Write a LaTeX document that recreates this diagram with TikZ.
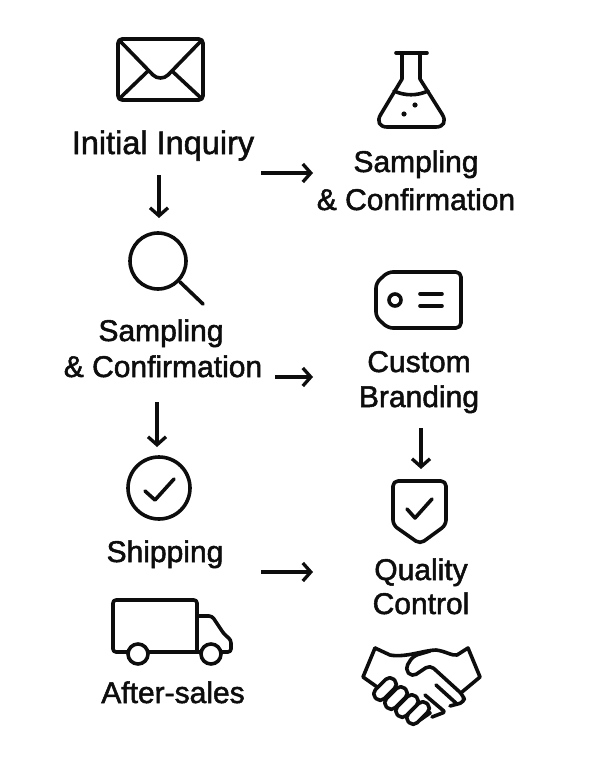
\documentclass[tikz,border=0pt]{standalone}
\usepackage{fontspec}
\setmainfont[FakeBold=1.7]{Liberation Sans}
\usetikzlibrary{arrows.meta}
\definecolor{ink}{HTML}{0D0D0D}
\tikzset{
  icon/.style={draw=ink,line width=3.6pt,line cap=round,line join=round,fill=none},
  label/.style={text=ink,font=\fontsize{30}{32}\selectfont,inner sep=0pt,anchor=base},
  conn/.style={draw=ink,line width=3.3pt,-{Straight Barb[length=8pt,width=18pt,line width=3.3pt]}},
  finger/.style={icon,fill=white,rounded corners=5.5pt,minimum width=26pt,minimum height=12.5pt,inner sep=0pt}
}
\begin{document}
\begin{tikzpicture}[x=1pt,y=-1pt]
\useasboundingbox (0,0) rectangle (593,757);
% labels
\node[label,font=\fontsize{32.5}{34}\selectfont] (inquiry) at (163,154) {Initial Inquiry};
\node[label] (samplingA) at (416,172) {Sampling};
\node[label] (confirmA) at (416,210) {\&\ Confirmation};
\node[label] (samplingB) at (161,341) {Sampling};
\node[label] (confirmB) at (163,377) {\&\ Confirmation};
\node[label] (custom) at (419,372) {Custom};
\node[label] (branding) at (419,407) {Branding};
\node[label] (shipping) at (165,562) {Shipping};
\node[label] (quality) at (421,580) {Quality};
\node[label] (control) at (421,614) {Control};
\node[label] (aftersales) at (173,703) {After-sales};
% connector ends
\coordinate (a1s) at (159,175); \coordinate (a1e) at (159,218);
\coordinate (a2s) at (261,173); \coordinate (a2e) at (313,173);
\coordinate (a3s) at (275,377); \coordinate (a3e) at (313,377);
\coordinate (a4s) at (157,402); \coordinate (a4e) at (157,447);
\coordinate (a5s) at (421,428); \coordinate (a5e) at (421,469);
\coordinate (a6s) at (261,572); \coordinate (a6e) at (313,572);
\draw[conn] (a1s) -- (a1e);
\draw[conn] (a2s) -- (a2e);
\draw[conn] (a3s) -- (a3e);
\draw[conn] (a4s) -- (a4e);
\draw[conn] (a5s) -- (a5e);
\draw[conn] (a6s) -- (a6e);
% envelope
\draw[icon,rounded corners=4pt] (118,39) rectangle (203,100);
\draw[icon] (120,41) -- (153,75) .. controls (157,79) and (164,79) .. (168,75) -- (201,41);
\draw[icon] (120,98) -- (148,71);
\draw[icon] (201,98) -- (172,71);
% magnifier
\draw[icon] (158,261) circle (28);
\draw[icon] (180,282) -- (203,304);
% flask
\draw[icon] (396,53) -- (427,53);
\draw[icon] (402,53) -- (402,79) -- (381,114)
  .. controls (376,122) and (380,127) .. (387,127) -- (436,127)
  .. controls (443,127) and (447,122) .. (442,114) -- (420,79) -- (420,53);
\draw[icon] (394,91) .. controls (405,96) and (417,96) .. (428,91);
\fill[ink] (415,105) circle (2.6);
\fill[ink] (404,114) circle (2.6);
% tag
\draw[icon,rounded corners=5pt] (388,272) -- (461,272) -- (461,328) -- (388,328) -- (376,317) -- (376,283) -- cycle;
\draw[icon] (395,300) circle (6);
\draw[icon] (420,294) -- (442,294);
\draw[icon] (420,306) -- (442,306);
% check circle
\draw[icon] (159,488) circle (31);
\draw[icon] (145,491) -- (155,500) -- (174,479);
% truck
\draw[icon,rounded corners=3pt] (128,652) -- (113,652) -- (113,600) -- (197,600) -- (197,652);
\draw[icon] (148,652) -- (201,652);
\draw[icon,rounded corners=3pt] (197,616) -- (212,616) -- (224,634) -- (231,640) -- (231,652) -- (221,652);
\draw[icon] (138,654) circle (10);
\draw[icon] (211,654) circle (10);
% shield
\draw[icon,rounded corners=5pt] (393,481) -- (446,481) -- (446,525) -- (420,544) -- (393,525) -- cycle;
\draw[icon] (407,509) -- (415,518) -- (432,499);
% handshake
\draw[icon] (375,648) -- (363,677) -- (380,689);
\draw[icon] (375,648) -- (390,655) .. controls (405,658) and (425,650) .. (436,650)
  .. controls (445,651) and (452,656) .. (457,655) -- (468,648) -- (480,677) -- (462,692);
\draw[icon,rounded corners=5pt] (430,651) -- (413,656) -- (405,669) -- (412,677) -- (430,665) -- (463,695) -- (465,702) -- (450,706);
\draw[icon,rounded corners=2pt] (436,685) -- (457,704);
\draw[icon,rounded corners=2pt] (425,695) -- (445,712) -- (432,717);
\draw[icon] (413,702) -- (430,713) -- (420,720);
\foreach \n/\cx/\cy in {f1/385/689,f2/396/698,f3/407/706,f4/418/713}{
  \node[finger,rotate=45] (\n) at (\cx,\cy) {};
}
\end{tikzpicture}
\end{document}
